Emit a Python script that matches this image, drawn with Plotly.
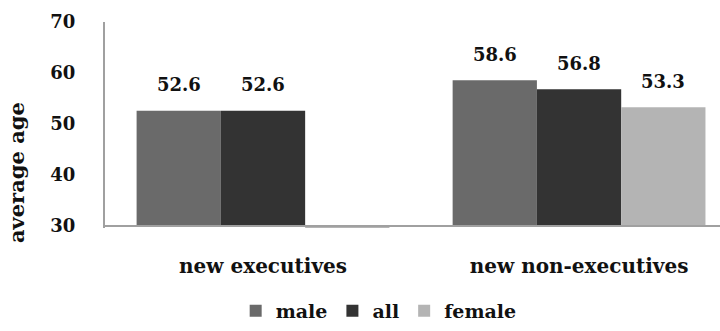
import plotly.graph_objects as go

# Average age of newly appointed board members, by role and gender
categories = ["new executives", "new non-executives"]
series_names = ["male", "all", "female"]
male = [52.6, 58.6]
all_members = [52.6, 56.8]
female = [0, 53.3]          # no new female executives
y_ticks = [30, 40, 50, 60, 70]

colors = {"male": "#6a6a6a", "all": "#333333", "female": "#b4b4b4"}
axis_floor = 30
font_family = "DejaVu Serif"
text_color = "#111111"

fig = go.Figure()
series = {"male": male, "all": all_members, "female": female}
bar_gap = 0.2
n_series = len(series)
bar_w = (1 - bar_gap) / n_series

for j, name in enumerate(series_names):
    vals = series[name]
    # bars grow from the axis crossing at 30, as in the source spreadsheet chart
    fig.add_trace(go.Bar(
        name=f"<b>{name}</b>",
        x=list(range(len(categories))),
        y=[v - axis_floor for v in vals],
        base=axis_floor,
        marker=dict(color=colors[name], line=dict(width=0)),
        hovertext=[f"{v}" for v in vals],
        hoverinfo="text",
    ))
    for i, v in enumerate(vals):
        if v > axis_floor:
            fig.add_annotation(
                x=i + (j - (n_series - 1) / 2) * bar_w, y=v,
                xref="x", yref="y",
                text=f"<b>{v:.1f}</b>", showarrow=False,
                yanchor="middle", yshift=26,
                font=dict(family=font_family, size=18, color=text_color),
            )

# horizontal axis line at the crossing value
fig.add_shape(type="line", xref="paper", yref="y", x0=0, x1=1,
              y0=axis_floor, y1=axis_floor,
              line=dict(color="#a0a0a0", width=2), layer="above")

fig.add_annotation(
    text="<b>average age</b>", xref="paper", yref="paper",
    x=-0.143, y=0.267, textangle=-90, showarrow=False,
    xanchor="center", yanchor="middle",
    font=dict(family=font_family, size=21, color=text_color),
)

fig.update_layout(
    width=720, height=331,
    margin=dict(l=105, r=0, t=22, b=103),
    paper_bgcolor="white", plot_bgcolor="white",
    barmode="group", bargap=bar_gap, bargroupgap=0,
    font=dict(family=font_family, size=18, color=text_color),
    showlegend=True,
    legend=dict(orientation="h", x=0.445, xanchor="center",
                y=-0.495, yanchor="bottom",
                font=dict(family=font_family, size=19, color=text_color),
                itemwidth=30, traceorder="normal"),
    xaxis=dict(
        range=[-0.5, 1.446],
        tickmode="array", tickvals=list(range(len(categories))),
        ticktext=[f"<b>{c}</b>" for c in categories],
        tickfont=dict(family=font_family, size=20, color=text_color),
        showline=False, showgrid=False, zeroline=False,
        ticks="", ticklabelstandoff=24,
    ),
    yaxis=dict(
        range=[29.6, 70],
        tickmode="array", tickvals=y_ticks,
        ticktext=[f"<b>{t}</b>" for t in y_ticks],
        showline=True, linecolor="#a0a0a0", linewidth=2,
        showgrid=False, zeroline=False,
        ticks="", ticklabelstandoff=24,
    ),
)

fig.write_html("out.html")
